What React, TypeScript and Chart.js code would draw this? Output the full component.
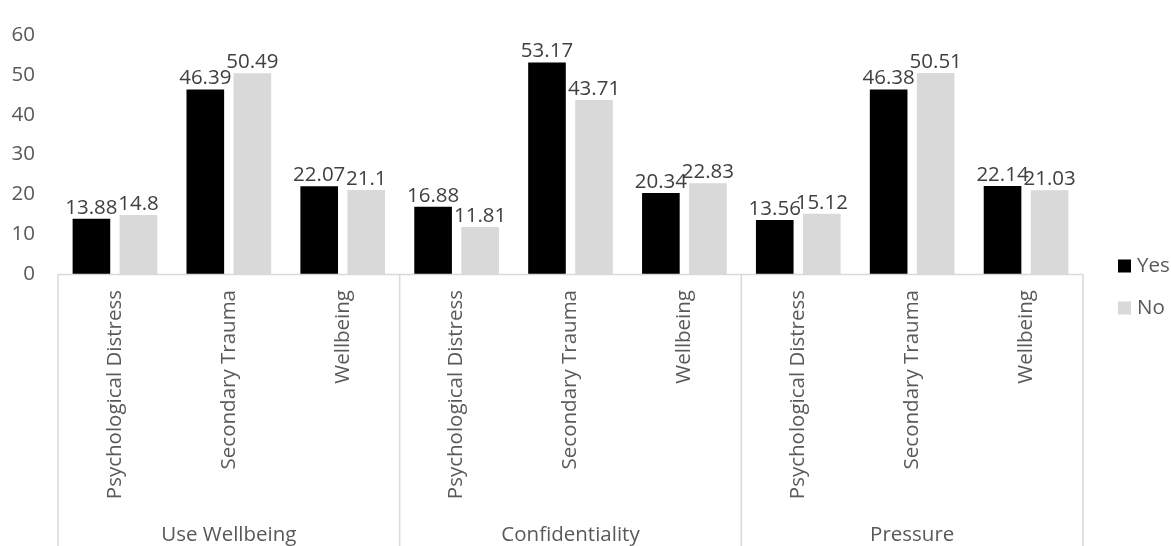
import React, { useEffect, useRef } from "react";
import { Chart, registerables } from "chart.js";

Chart.register(...registerables);

const groups = ["Use Wellbeing", "Confidentiality", "Pressure"];
const measures = ["Psychological Distress", "Secondary Trauma", "Wellbeing"];
const categories = groups.flatMap((g) => measures.map((m) => m));
const yesValues = [13.88, 46.39, 22.07, 16.88, 53.17, 20.34, 13.56, 46.38, 22.14];
const noValues = [14.8, 50.49, 21.1, 11.81, 43.71, 22.83, 15.12, 50.51, 21.03];
const seriesNames = ["Yes", "No"];
const seriesColors = ["#000000", "#d9d9d9"];
const yTicks = [0, 10, 20, 30, 40, 50, 60];

const FONT = "'Open Sans', sans-serif";
const FS = 20.5;

const overlayPlugin = {
  id: "excelOverlay",
  afterDatasetsDraw(chart: any) {
    const ctx = chart.ctx as CanvasRenderingContext2D;
    const area = chart.chartArea;
    const xs = chart.scales.x;
    const H = chart.height;
    ctx.save();
    // data labels
    ctx.font = `${FS}px ${FONT}`;
    ctx.fillStyle = "#404040";
    ctx.textAlign = "center";
    ctx.textBaseline = "alphabetic";
    chart.data.datasets.forEach((ds: any, di: number) => {
      const meta = chart.getDatasetMeta(di);
      meta.data.forEach((bar: any, i: number) => {
        ctx.fillText(String(ds.data[i]), bar.x, bar.y - 5);
      });
    });
    // axis lines
    ctx.strokeStyle = "#d9d9d9";
    ctx.lineWidth = 1.5;
    ctx.beginPath();
    ctx.moveTo(area.left, area.bottom + 0.5);
    ctx.lineTo(area.right, area.bottom + 0.5);
    const n = categories.length;
    const per = measures.length;
    const bounds: number[] = [area.left];
    for (let g = 1; g < groups.length; g++) {
      const i = g * per;
      bounds.push((xs.getPixelForValue(i - 1) + xs.getPixelForValue(i)) / 2);
    }
    bounds.push(area.right);
    bounds.forEach((bx) => {
      ctx.moveTo(bx, area.bottom);
      ctx.lineTo(bx, H);
    });
    ctx.stroke();
    // inner labels
    ctx.fillStyle = "#595959";
    for (let i = 0; i < n; i++) {
      const cx = xs.getPixelForValue(i);
      ctx.save();
      ctx.translate(cx, area.bottom + 16);
      ctx.rotate(-Math.PI / 2);
      ctx.textAlign = "right";
      ctx.textBaseline = "middle";
      ctx.fillText(categories[i], 0, 0);
      ctx.restore();
    }
    // outer labels
    ctx.textAlign = "center";
    ctx.textBaseline = "middle";
    groups.forEach((g, gi) => {
      const cx = (bounds[gi] + bounds[gi + 1]) / 2;
      ctx.fillText(g, cx, 535);
    });
    // legend
    ctx.textAlign = "left";
    ctx.textBaseline = "middle";
    const legY = [266, 308];
    chart.data.datasets.forEach((ds: any, di: number) => {
      ctx.fillStyle = ds.backgroundColor;
      ctx.fillRect(1118, legY[di] - 6.5, 13, 13);
      ctx.fillStyle = "#595959";
      ctx.fillText(ds.label, 1137, legY[di]);
    });
    ctx.restore();
  },
};

export default function App() {
  const ref = useRef<HTMLCanvasElement | null>(null);
  useEffect(() => {
    if (!ref.current) return;
    const chart = new Chart(ref.current, {
      type: "bar",
      data: {
        labels: categories,
        datasets: [
          {
            label: seriesNames[0],
            data: yesValues,
            backgroundColor: seriesColors[0],
            categoryPercentage: 0.826,
            barPercentage: 0.8,
          },
          {
            label: seriesNames[1],
            data: noValues,
            backgroundColor: seriesColors[1],
            categoryPercentage: 0.826,
            barPercentage: 0.8,
          },
        ],
      },
      options: {
        responsive: false,
        animation: false,
        layout: { padding: { left: 0, top: 25, right: 88, bottom: 272 } },
        plugins: { legend: { display: false }, tooltip: { enabled: false } },
        scales: {
          x: { display: false },
          y: {
            min: 0,
            max: 60,
            afterFit: (s: any) => {
              s.width = 58;
            },
            afterBuildTicks: (s: any) => {
              s.ticks = yTicks.map((v) => ({ value: v }));
            },
            grid: { display: false, drawTicks: false },
            border: { display: false },
            ticks: {
              padding: 23,
              color: "#595959",
              font: { family: FONT, size: FS },
            },
          },
        },
      },
      plugins: [overlayPlugin],
    });
    return () => chart.destroy();
  }, []);
  return (
    <div style={{ position: "fixed", left: 0, top: 0, width: 1171, height: 546, background: "#fff" }}>
      <canvas ref={ref} width={1171} height={546} />
    </div>
  );
}
